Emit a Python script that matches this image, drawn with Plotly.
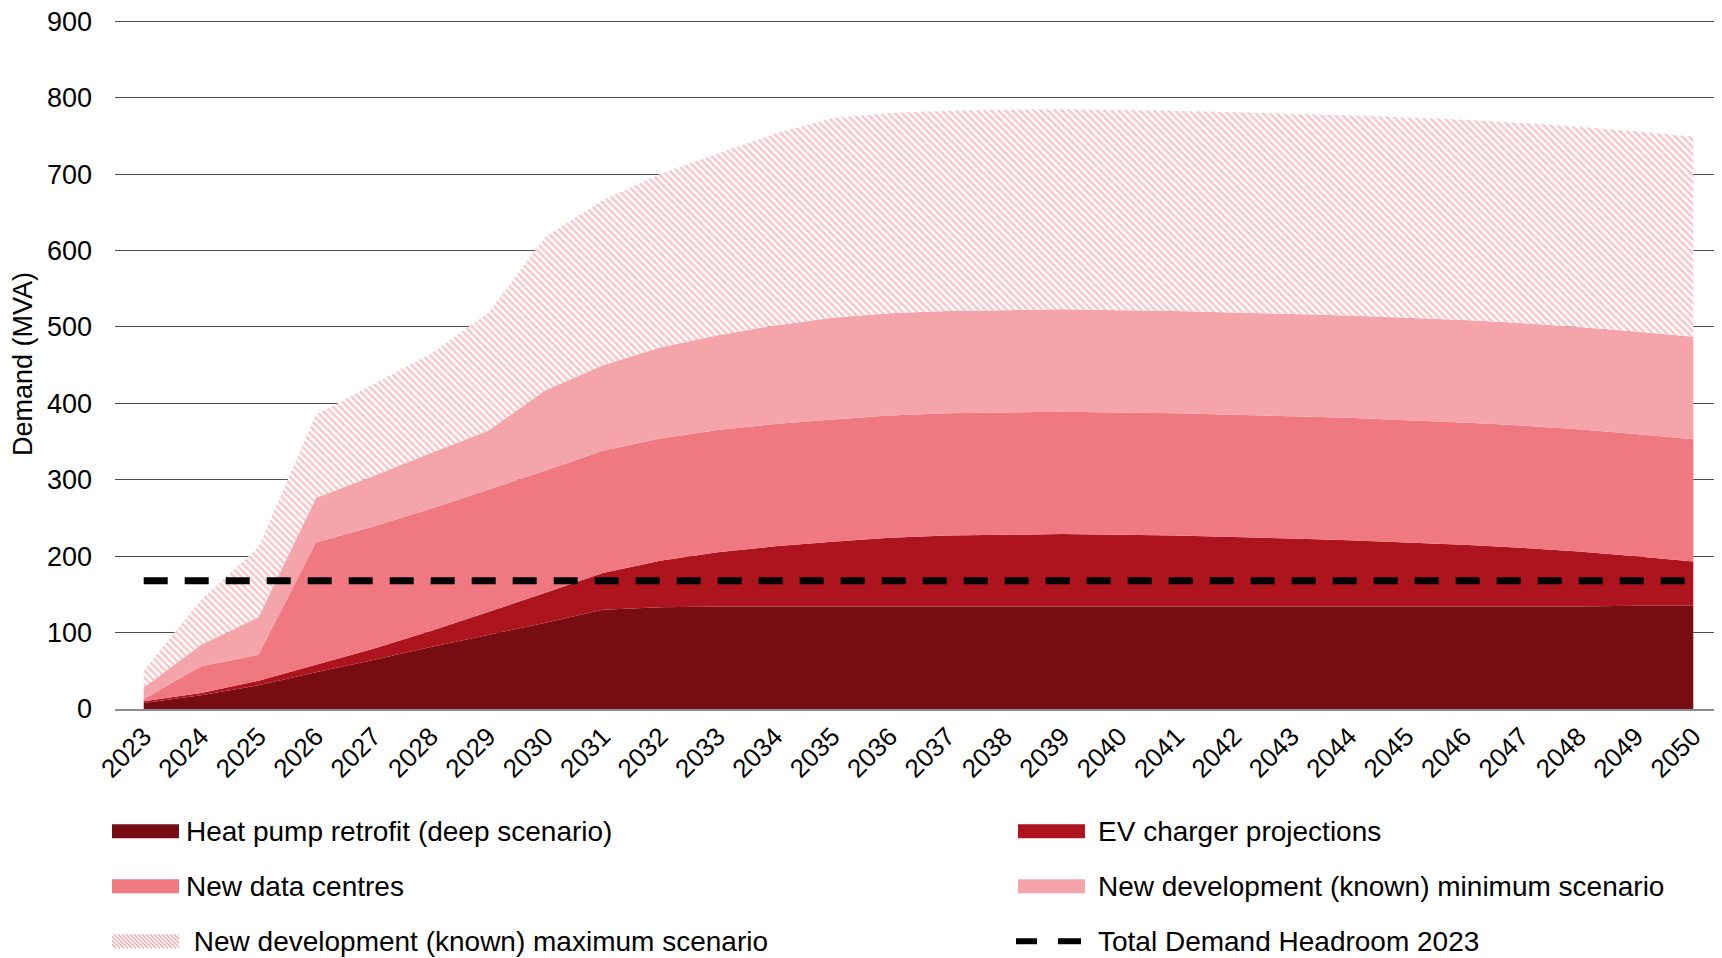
import plotly.graph_objects as go

years = [str(y) for y in range(2023, 2051)]

heat_pump = [8, 18, 31, 48, 64, 81, 97, 113, 130, 133, 134, 134, 134, 134,
             134, 134, 134, 134, 134, 134, 134, 134, 134, 134, 134, 134, 135, 135]
ev_charger = [2, 3, 6, 10, 15, 21, 30, 39, 48, 61, 71, 79, 85, 90,
              93, 94, 95, 94, 93, 91, 89, 87, 84, 81, 77, 72, 65, 58]
data_centres = [3, 35, 34, 160, 160, 160, 160, 160, 160, 160, 160, 160, 160, 160,
                160, 160, 160, 160, 160, 160, 160, 160, 160, 160, 160, 160, 160, 160]
dev_min = [15, 28, 49, 58, 66, 73, 77, 105, 112, 119, 124, 129, 133, 134,
           134, 134, 134, 134, 134, 134, 134, 134, 134, 134, 134, 134, 134, 134]
dev_max = [22, 59, 92, 109, 120, 130, 154, 201, 216, 227, 238, 251, 261, 262,
           262, 262, 262, 262, 262, 262, 262, 262, 262, 262, 262, 262, 262, 262]
headroom = [168] * len(years)

legend_labels = ["Heat pump retrofit (deep scenario)", "EV charger projections",
                 "New data centres", "New development (known) minimum scenario",
                 " New development (known) maximum scenario", "Total Demand Headroom 2023"]

FONT = "Liberation Sans, Arial, sans-serif"
C_HP, C_EV, C_DC, C_MIN, C_HATCH = "#770C13", "#AD141E", "#F07880", "#F5A4A9", "#F08C95"

OFF = 8  # default page body margin
W, H = 1722 - OFF, 958 - OFF
Y_TOP = 903.0
SCALE = 688.5 / 900.0          # px per unit
PLOT_BOTTOM = 709.5 - OFF
ML, MR = 115 - OFF, 0
MT = PLOT_BOTTOM - Y_TOP * SCALE
MB = H - PLOT_BOTTOM
PW, PH = W - ML - MR, H - MT - MB

def px(x):  # viewport px -> paper
    return (x - OFF - ML) / PW

def py(y):
    return (PLOT_BOTTOM - (y - OFF)) / PH

fig = go.Figure()
fig.add_trace(go.Scatter(x=years, y=heat_pump, name=legend_labels[0],
                         stackgroup="one", mode="none", fillcolor=C_HP))
fig.add_trace(go.Scatter(x=years, y=ev_charger, name=legend_labels[1],
                         stackgroup="one", mode="none", fillcolor=C_EV))
fig.add_trace(go.Scatter(x=years, y=data_centres, name=legend_labels[2],
                         stackgroup="one", mode="none", fillcolor=C_DC))
fig.add_trace(go.Scatter(x=years, y=dev_min, name=legend_labels[3],
                         stackgroup="one", mode="none", fillcolor=C_MIN))
fig.add_trace(go.Scatter(x=years, y=dev_max, name=legend_labels[4],
                         stackgroup="one", mode="none", fillcolor="white",
                         fillpattern=dict(shape="\\", fgcolor=C_HATCH, bgcolor="white",
                                          size=5, solidity=0.5)))
fig.add_trace(go.Scatter(x=years, y=headroom, name=legend_labels[5],
                         mode="lines", line=dict(color="black", width=7, dash="24px,17px")))

# custom legend (2 columns x 3 rows)
shapes = []
annotations = []
col_sym_x = [112, 1018]
col_txt_x = [184, 1096]
row_y = [832, 887, 942]
sym_w, sym_h = 67, 14
kinds = ["solid", "solid", "solid", "solid", "hatch", "dash"]
colors = [C_HP, C_EV, C_DC, C_MIN, C_HATCH, "black"]
for i, lab in enumerate(legend_labels):
    r, c = divmod(i, 2)
    x0 = col_sym_x[c]
    yc = row_y[r]
    if kinds[i] == "solid":
        shapes.append(dict(type="rect", xref="paper", yref="paper",
                           x0=px(x0), x1=px(x0 + sym_w),
                           y0=py(yc - sym_h / 2), y1=py(yc + sym_h / 2),
                           fillcolor=colors[i], line=dict(width=0), layer="above"))
    elif kinds[i] == "hatch":
        step = 4
        top, bot = yc - sym_h / 2, yc + sym_h / 2
        s = x0 - sym_h
        while s < x0 + sym_w:
            xa, ya = s, top
            xb, yb = s + sym_h, bot
            if xa < x0:
                ya = top + (x0 - xa)
                xa = x0
            if xb > x0 + sym_w:
                yb = bot - (xb - (x0 + sym_w))
                xb = x0 + sym_w
            if xb > xa:
                shapes.append(dict(type="line", xref="paper", yref="paper",
                                   x0=px(xa), x1=px(xb), y0=py(ya), y1=py(yb),
                                   line=dict(color="#F5A6AC", width=1.3), layer="above"))
            s += step
    else:
        for a, b in [(x0 - 2, x0 + 19), (x0 + 40, x0 + 63)]:
            shapes.append(dict(type="line", xref="paper", yref="paper",
                               x0=px(a), x1=px(b), y0=py(yc), y1=py(yc),
                               line=dict(color="black", width=6), layer="above"))
    annotations.append(dict(xref="paper", yref="paper", x=px(col_txt_x[c]), y=py(yc),
                            xanchor="left", yanchor="middle", showarrow=False,
                            text=lab.replace(" ", "&nbsp;", 1) if lab.startswith(" ") else lab,
                            font=dict(family=FONT, size=28, color="black")))

fig.update_layout(
    width=W, height=H,
    margin=dict(l=ML, r=MR, t=MT, b=MB),
    plot_bgcolor="white", paper_bgcolor="white",
    font=dict(family=FONT, size=26, color="black"),
    showlegend=False,
    shapes=shapes, annotations=annotations,
)
fig.update_xaxes(type="category", range=[-0.5, 27.5], tickangle=-45,
                 tickfont=dict(family=FONT, size=26, color="black"),
                 showgrid=False, showline=True, linecolor="#8C8C8C", linewidth=2,
                 ticks="", zeroline=False, automargin=False)
fig.update_yaxes(range=[0, Y_TOP], tickvals=list(range(0, 1000, 100)),
                 showgrid=True, gridcolor="#505050",
                 gridwidth=1, zeroline=False, showline=False, automargin=False,
                 tickfont=dict(family=FONT, size=27, color="black"),
                 ticklabelstandoff=22, ticklabeloverflow="allow",
                 title=dict(text="Demand (MVA)", font=dict(family=FONT, size=27, color="black"),
                            standoff=10))

fig.write_html("out.html")
